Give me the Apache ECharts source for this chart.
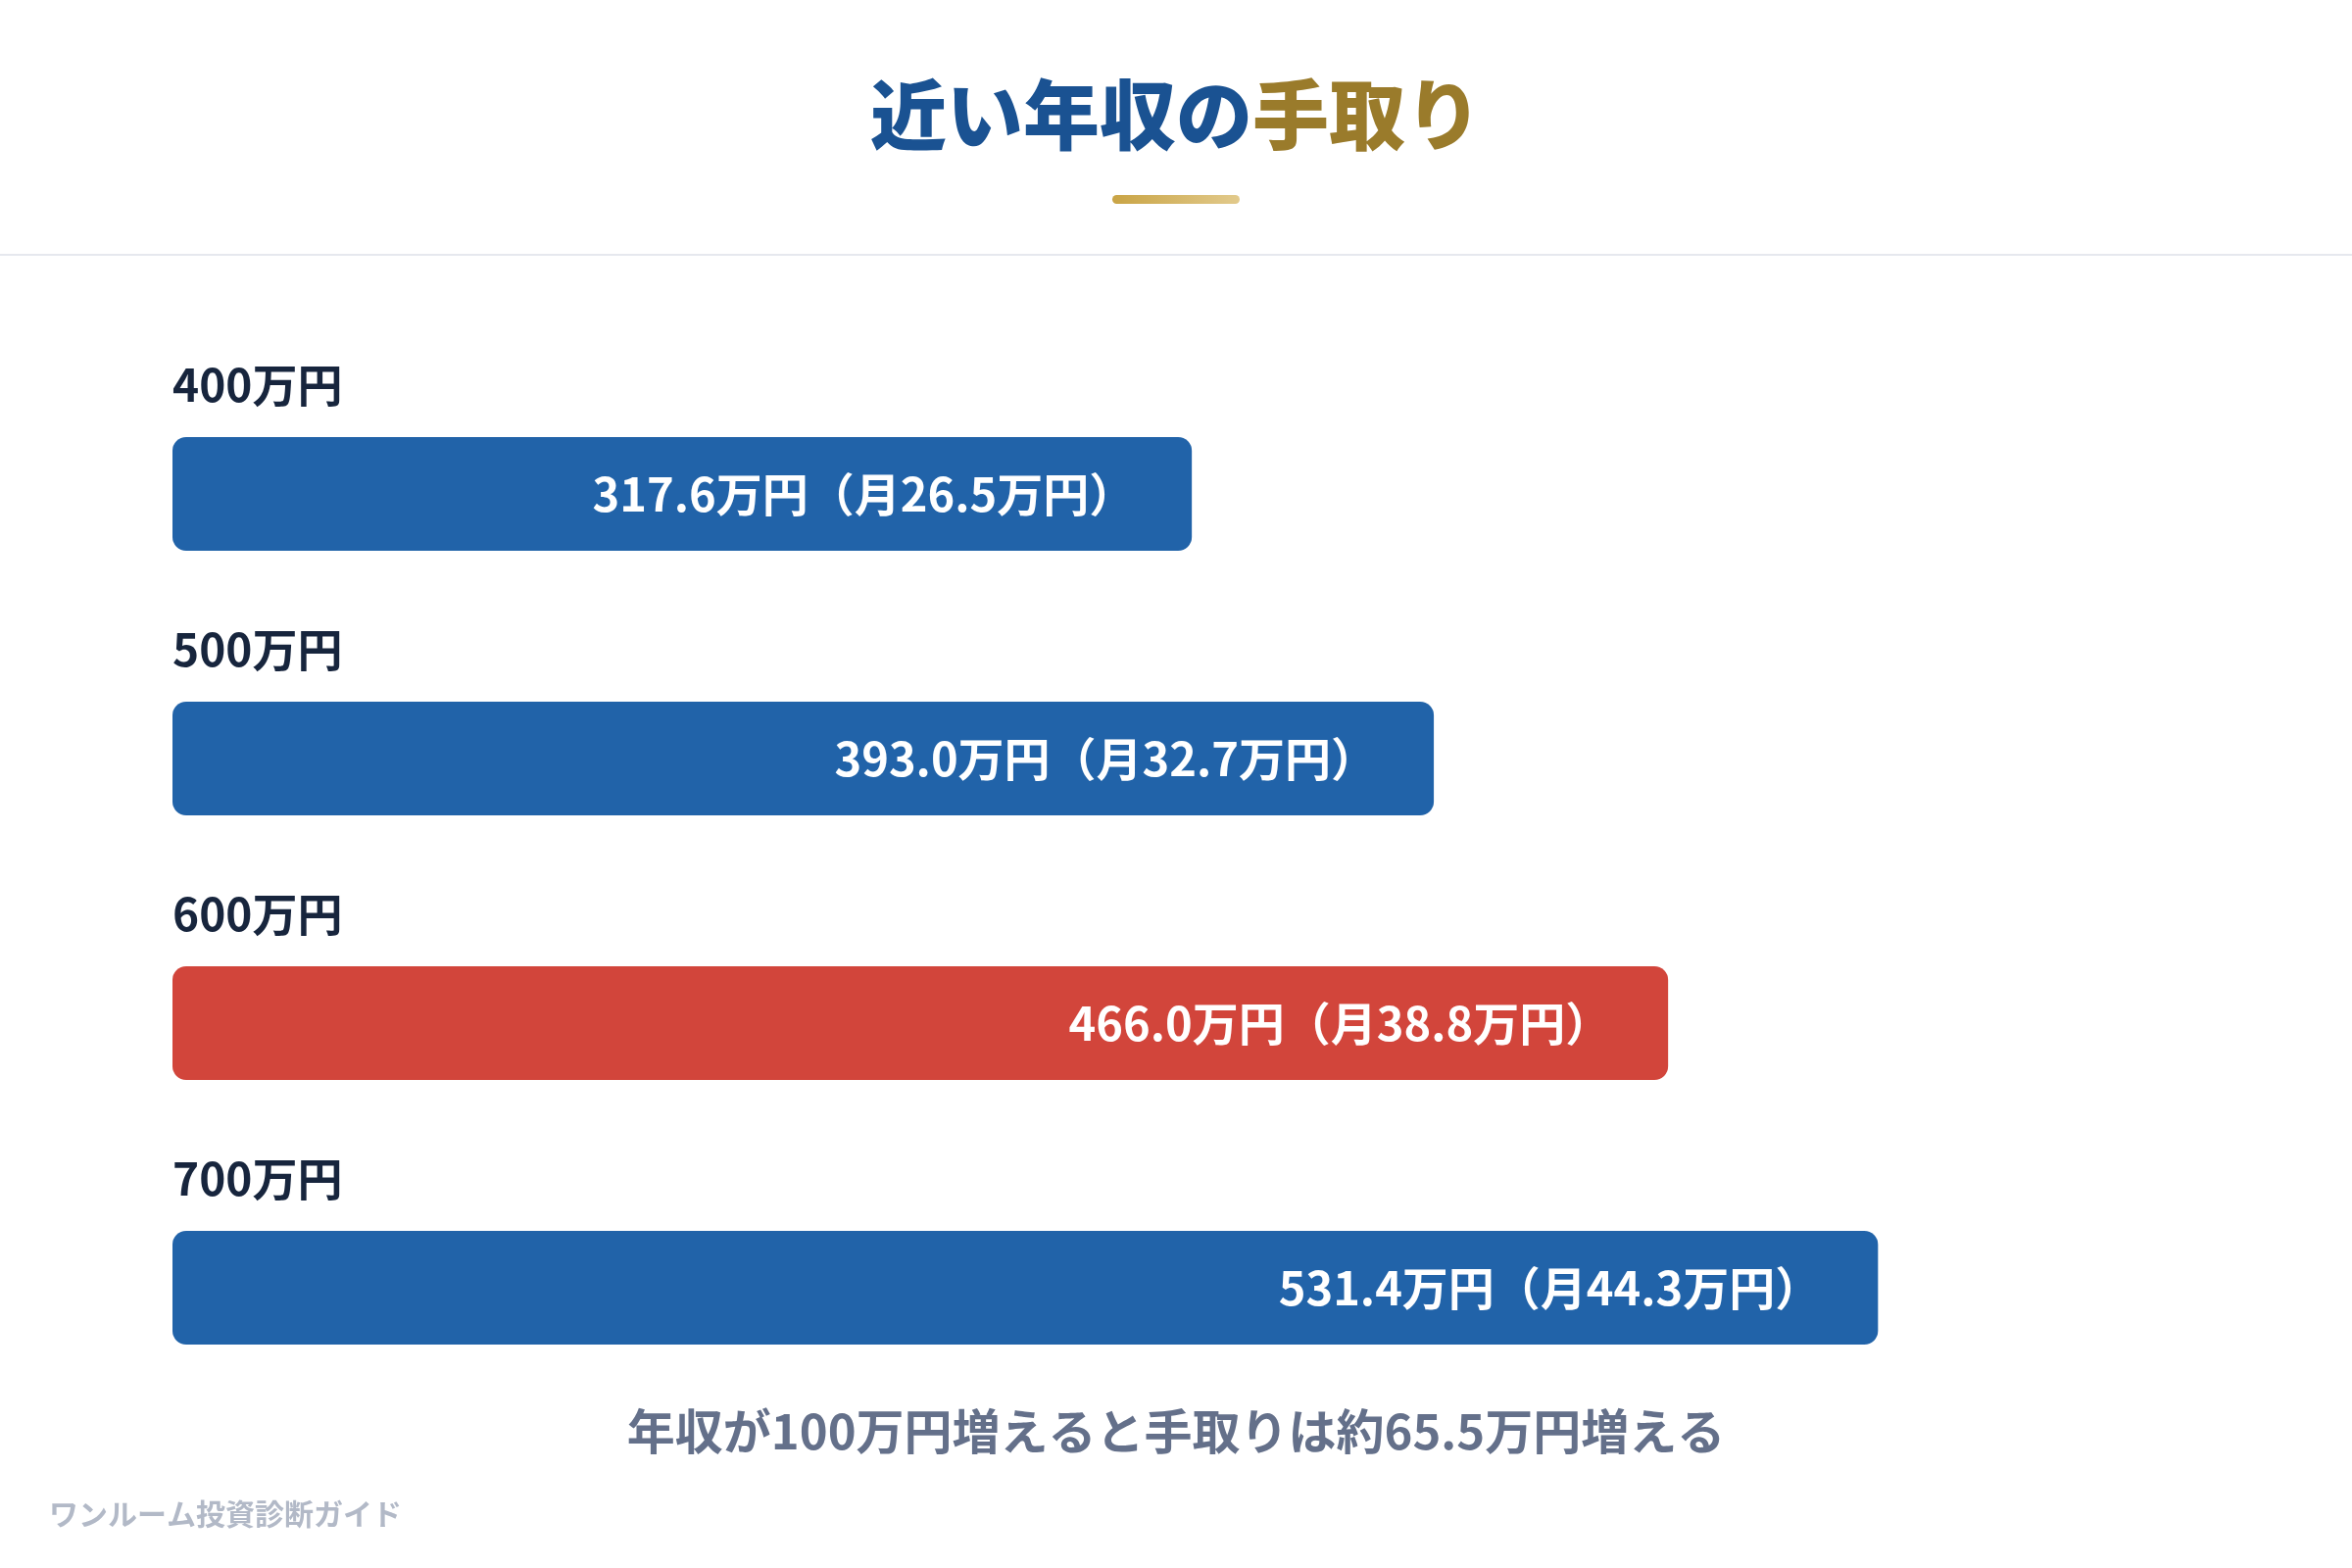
<!DOCTYPE html>
<html>
<head>
<meta charset="utf-8">
<script src="https://cdn.jsdelivr.net/npm/echarts@6/dist/echarts.min.js"></script>
<style>
  html, body { margin: 0; padding: 0; background: #fff; }
  #main { width: 2400px; height: 1600px; }
</style>
</head>
<body>
<div id="main"></div>
<script>
// 年収カテゴリと手取り（年・月）
var categories = ['400万円', '500万円', '600万円', '700万円'];
var takeHome = [317.6, 393.0, 466.0, 531.4];
var monthly = [26.5, 32.7, 38.8, 44.3];
var highlight = [false, false, true, false];

var FONT = '"Noto Sans CJK JP", "Noto Sans", sans-serif';
var BLUE = '#2163a9';
var RED = '#d2453b';

var myChart = echarts.init(document.getElementById('main'));

var barData = takeHome.map(function (v, i) {
  return {
    value: v,
    itemStyle: { color: highlight[i] ? RED : BLUE }
  };
});

var option = {
  backgroundColor: '#ffffff',
  animation: false,
  grid: { left: 176, top: 369, width: 1965, height: 1080, containLabel: false },
  xAxis: {
    type: 'value',
    min: 0,
    max: 600,
    show: false
  },
  yAxis: {
    type: 'category',
    data: categories,
    inverse: true,
    axisLine: { show: false },
    axisTick: { show: false },
    axisLabel: {
      inside: true,
      margin: 0,
      align: 'left',
      verticalAlign: 'bottom',
      padding: [0, 0, 88, 0],
      lineHeight: 46,
      fontFamily: FONT,
      fontWeight: 'bold',
      fontSize: 46,
      color: '#17253d'
    }
  },
  series: [
    {
      type: 'bar',
      data: barData,
      barWidth: 116,
      itemStyle: { borderRadius: 14 },
      label: {
        show: true,
        position: 'insideRight',
        distance: 58,
        fontFamily: FONT,
        fontWeight: 'bold',
        fontSize: 47,
        color: '#ffffff',
        formatter: function (p) {
          return takeHome[p.dataIndex].toFixed(1) + '万円（月' + monthly[p.dataIndex].toFixed(1) + '万円）';
        }
      }
    }
  ],
  graphic: [
    {
      type: 'text',
      left: 'center',
      top: 78,
      style: {
        text: '{a|近い年収の}{b|手取り}',
        rich: {
          a: { fontFamily: FONT, fontWeight: 900, fontSize: 78, fill: '#1a5292', color: '#1a5292' },
          b: { fontFamily: FONT, fontWeight: 900, fontSize: 78, fill: '#9a7b2b', color: '#9a7b2b' }
        }
      }
    },
    {
      type: 'rect',
      shape: { x: 1135, y: 199, width: 130, height: 9, r: 4.5 },
      style: {
        fill: new echarts.graphic.LinearGradient(0, 0, 1, 0, [
          { offset: 0, color: '#c9a445' },
          { offset: 1, color: '#e2ca8c' }
        ])
      }
    },
    {
      type: 'rect',
      shape: { x: 0, y: 259, width: 2400, height: 2 },
      style: { fill: '#e6e8ee' }
    },
    {
      type: 'text',
      left: 'center',
      top: 1436,
      style: {
        text: '年収が100万円増えると手取りは約65.5万円増える',
        font: 'bold 49px ' + FONT,
        fill: '#64708a'
      }
    },
    {
      type: 'text',
      left: 50,
      top: 1530,
      style: {
        text: 'ワンルーム投資診断ガイド',
        font: 'bold 30px ' + FONT,
        fill: '#b2b9c7'
      }
    }
  ]
};

myChart.setOption(option);
</script>
</body>
</html>
